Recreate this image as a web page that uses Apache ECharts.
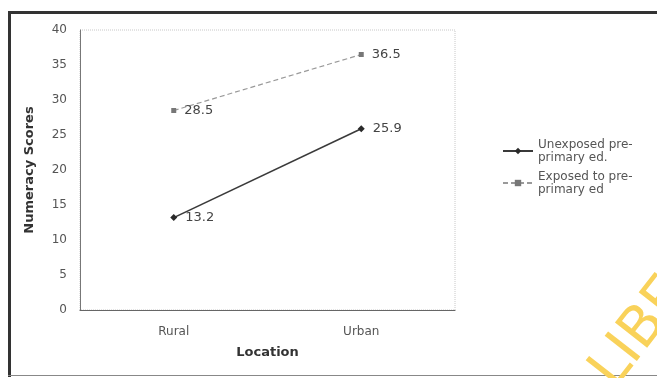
<!DOCTYPE html>
<html>
<head>
<meta charset="utf-8">
<script src="https://cdn.jsdelivr.net/npm/echarts@6/dist/echarts.min.js"></script>
<style>
html,body{margin:0;padding:0;background:#fff;}
#c{width:657px;height:378px;}
</style>
</head>
<body>
<div id="c"></div>
<script>
const categories = ['Rural', 'Urban'];
const unexposed = [13.2, 25.9];
const exposed = [28.5, 36.5];
const seriesNames = ['Unexposed pre-primary ed.', 'Exposed to pre-primary ed'];
const legendLabels = ['Unexposed pre-\nprimary ed.', 'Exposed to pre-\nprimary ed'];
const yTicks = { min: 0, max: 40, interval: 5 };

const chart = echarts.init(document.getElementById('c'), null, { renderer: 'canvas' });
const font = 'DejaVu Sans, Verdana, sans-serif';
chart.setOption({
  backgroundColor: '#fff',
  animation: false,
  grid: {
    left: 80, right: 202, top: 30, bottom: 68,
    show: true, borderColor: '#c8c8c8', borderWidth: 1, borderType: 'dotted'
  },
  legend: {
    orient: 'vertical',
    left: 497, top: 133,
    itemWidth: 30, itemHeight: 8, itemGap: 6,
    textStyle: { fontFamily: font, fontSize: 12, color: '#555', lineHeight: 13 },
    formatter: n => legendLabels[seriesNames.indexOf(n)],
    data: seriesNames
  },
  xAxis: {
    type: 'category', data: categories, boundaryGap: true,
    name: 'Location', nameLocation: 'middle', nameGap: 36,
    nameTextStyle: { fontFamily: font, fontSize: 13, fontWeight: 'bold', color: '#333' },
    axisLine: { lineStyle: { color: '#666', width: 1.2 } },
    axisTick: { show: false },
    axisLabel: { fontFamily: font, fontSize: 12, color: '#555', margin: 16 }
  },
  yAxis: {
    type: 'value', min: yTicks.min, max: yTicks.max, interval: yTicks.interval,
    name: 'Numeracy Scores', nameLocation: 'middle', nameGap: 44, nameRotate: 90,
    nameTextStyle: { fontFamily: font, fontSize: 13, fontWeight: 'bold', color: '#333' },
    axisLine: { show: true, lineStyle: { color: '#777', width: 1 } },
    axisTick: { show: false },
    splitLine: { show: false },
    axisLabel: { fontFamily: font, fontSize: 12, color: '#555', margin: 13 }
  },
  series: [
    {
      name: seriesNames[0], type: 'line', data: unexposed,
      symbol: 'diamond', symbolSize: 7,
      lineStyle: { color: '#3a3a3a', width: 1.6 },
      itemStyle: { color: '#2a2a2a' },
      label: { show: true, position: 'right', distance: 8, fontFamily: font, fontSize: 13, color: '#444' }
    },
    {
      name: seriesNames[1], type: 'line', data: exposed,
      symbol: 'rect', symbolSize: 5,
      lineStyle: { color: '#9a9a9a', width: 1.2, type: [5, 3] },
      itemStyle: { color: '#777' },
      label: { show: true, position: 'right', distance: 8, fontFamily: font, fontSize: 13, color: '#444' }
    }
  ],
  graphic: [
    { type: 'rect', shape: { x: 8, y: 11, width: 660, height: 3 }, style: { fill: '#333' }, silent: true },
    { type: 'rect', shape: { x: 8, y: 11, width: 3, height: 366 }, style: { fill: '#333' }, silent: true },
    { type: 'rect', shape: { x: 8, y: 375, width: 660, height: 1 }, style: { fill: '#888' }, silent: true },
    {
      type: 'text', x: 625, y: 398, rotation: Math.PI * 52 / 180, silent: true,
      style: { text: 'LIBER', font: '56px DejaVu Sans', fill: '#f9d25a', textVerticalAlign: 'bottom' }
    }
  ]
});
</script>
</body>
</html>
